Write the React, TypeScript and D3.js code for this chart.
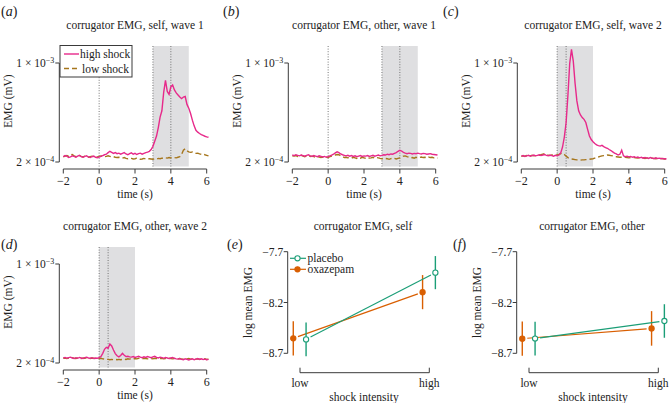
import React from 'react';
import * as d3 from 'd3';

// ---------- DATA ----------
const TIME = [
  -2.0, -1.9, -1.8, -1.7, -1.6, -1.5, -1.4, -1.3, -1.2, -1.1,
  -1.0, -0.9, -0.8, -0.7, -0.6, -0.5, -0.4, -0.3, -0.2, -0.1,
  0.0, 0.1, 0.2, 0.3, 0.4, 0.5, 0.6, 0.7, 0.8, 0.9,
  1.0, 1.1, 1.2, 1.3, 1.4, 1.5, 1.6, 1.7, 1.8, 1.9,
  2.0, 2.1, 2.2, 2.3, 2.4, 2.5, 2.6, 2.7, 2.8, 2.9,
  3.0, 3.1, 3.2, 3.3, 3.4, 3.5, 3.6, 3.7, 3.8, 3.9,
  4.0, 4.1, 4.2, 4.3, 4.4, 4.5, 4.6, 4.7, 4.8, 4.9,
  5.0, 5.1, 5.2, 5.3, 5.4, 5.5, 5.6, 5.7, 5.8, 5.9,
  6.0, 6.1,
];

// EMG values in units of 1e-4 mV
const selfW1High = [
  2.18, 2.22, 2.20, 2.15, 2.17, 2.21, 2.19, 2.16, 2.20, 2.23,
  2.18, 2.16, 2.19, 2.21, 2.17, 2.15, 2.18, 2.20, 2.16, 2.14,
  2.17, 2.19, 2.22, 2.25, 2.27, 2.33, 2.38, 2.34, 2.30, 2.33,
  2.29, 2.31, 2.27, 2.30, 2.33, 2.28, 2.25, 2.29, 2.32, 2.27,
  2.30, 2.26, 2.29, 2.31, 2.27, 2.30, 2.33, 2.35, 2.38, 2.45,
  2.58, 2.80, 3.05, 3.50, 4.15, 4.60, 6.20, 7.55, 6.30, 6.00,
  6.80, 7.00, 6.45, 6.15, 5.95, 5.75, 5.60, 5.75, 5.80, 5.10,
  4.80, 4.40, 3.95, 3.60, 3.35, 3.25, 3.18, 3.12, 3.08, 3.04,
  3.01, 2.99,
];
const selfW1Low = [
  2.17, 2.20, 2.22, 2.19, 2.24, 2.26, 2.21, 2.18, 2.20, 2.22,
  2.19, 2.17, 2.20, 2.18, 2.16, 2.18, 2.20, 2.17, 2.15, 2.17,
  2.19, 2.21, 2.20, 2.18, 2.19, 2.21, 2.19, 2.17, 2.18, 2.16,
  2.15, 2.16, 2.14, 2.13, 2.15, 2.12, 2.11, 2.13, 2.12, 2.10,
  2.11, 2.13, 2.11, 2.09, 2.10, 2.12, 2.10, 2.09, 2.11, 2.10,
  2.09, 2.11, 2.10, 2.12, 2.11, 2.13, 2.12, 2.14, 2.13, 2.15,
  2.14, 2.16, 2.15, 2.14, 2.16, 2.18, 2.26, 2.42, 2.48, 2.40,
  2.36, 2.34, 2.35, 2.32, 2.30, 2.31, 2.28, 2.27, 2.28, 2.25,
  2.23, 2.21,
];
const otherW1High = [
  2.24, 2.22, 2.25, 2.23, 2.21, 2.24, 2.22, 2.20, 2.23, 2.25,
  2.21, 2.19, 2.22, 2.20, 2.18, 2.21, 2.19, 2.17, 2.19, 2.16,
  2.18, 2.21, 2.24, 2.27, 2.32, 2.36, 2.33, 2.28, 2.25, 2.23,
  2.21, 2.23, 2.20, 2.22, 2.19, 2.21, 2.18, 2.20, 2.22, 2.19,
  2.21, 2.20, 2.22, 2.19, 2.21, 2.23, 2.20, 2.22, 2.24, 2.21,
  2.23, 2.25, 2.24, 2.27, 2.25, 2.28, 2.27, 2.30, 2.33, 2.38,
  2.42, 2.39, 2.34, 2.31, 2.29, 2.31, 2.30, 2.28, 2.30, 2.29,
  2.31, 2.29, 2.28, 2.30, 2.29, 2.27, 2.28, 2.29, 2.27, 2.26,
  2.25, 2.24,
];
const otherW1Low = [
  2.21, 2.20, 2.22, 2.19, 2.21, 2.23, 2.20, 2.18, 2.21, 2.22,
  2.19, 2.20, 2.18, 2.16, 2.19, 2.17, 2.15, 2.17, 2.14, 2.16,
  2.15, 2.18, 2.20, 2.22, 2.24, 2.26, 2.25, 2.21, 2.18, 2.15,
  2.16, 2.14, 2.15, 2.13, 2.16, 2.14, 2.12, 2.15, 2.13, 2.16,
  2.14, 2.12, 2.15, 2.13, 2.14, 2.16, 2.13, 2.15, 2.14, 2.12,
  2.11, 2.10, 2.12, 2.11, 2.09, 2.11, 2.13, 2.12, 2.10, 2.12,
  2.14, 2.17, 2.20, 2.21, 2.18, 2.16, 2.14, 2.15, 2.13, 2.16,
  2.14, 2.15, 2.17, 2.15, 2.16, 2.14, 2.17, 2.15, 2.16, 2.14,
  2.15, 2.13,
];
const selfW2High = [
  2.20, 2.22, 2.19, 2.21, 2.23, 2.20, 2.22, 2.24, 2.21, 2.23,
  2.25, 2.22, 2.24, 2.26, 2.23, 2.21, 2.24, 2.22, 2.20, 2.23,
  2.21, 2.24, 2.32, 2.55, 3.00, 3.80, 5.90, 9.90, 12.50, 10.30,
  7.20, 5.40, 4.60, 4.30, 4.12, 4.00, 3.80, 3.40, 3.05, 2.88,
  2.78, 2.70, 2.64, 2.61, 2.59, 2.62, 2.57, 2.53, 2.50, 2.45,
  2.41, 2.36, 2.31, 2.28, 2.24, 2.27, 2.42, 2.21, 2.18, 2.20,
  2.17, 2.19, 2.16, 2.18, 2.15, 2.17, 2.14, 2.16, 2.13, 2.15,
  2.14, 2.12, 2.15, 2.13, 2.11, 2.14, 2.12, 2.13, 2.11, 2.12,
  2.10, 2.11,
];
const selfW2Low = [
  2.19, 2.21, 2.20, 2.22, 2.20, 2.21, 2.23, 2.21, 2.22, 2.24,
  2.23, 2.25, 2.27, 2.29, 2.25, 2.23, 2.22, 2.24, 2.23, 2.25,
  2.24, 2.26, 2.29, 2.31, 2.26, 2.20, 2.15, 2.12, 2.10, 2.09,
  2.08, 2.07, 2.07, 2.06, 2.07, 2.07, 2.08, 2.08, 2.09, 2.10,
  2.11, 2.13, 2.15, 2.17, 2.19, 2.21, 2.22, 2.23, 2.24, 2.23,
  2.22, 2.21, 2.19, 2.18, 2.17, 2.16, 2.16, 2.15, 2.16, 2.15,
  2.14, 2.15, 2.14, 2.15, 2.14, 2.13, 2.14, 2.13, 2.14, 2.12,
  2.13, 2.14, 2.12, 2.13, 2.12, 2.11, 2.12, 2.11, 2.12, 2.11,
  2.10, 2.11,
];
const otherW2High = [
  2.17, 2.19, 2.16, 2.18, 2.20, 2.17, 2.15, 2.18, 2.16, 2.19,
  2.17, 2.15, 2.18, 2.20, 2.17, 2.16, 2.18, 2.15, 2.17, 2.16,
  2.18, 2.22, 2.34, 2.50, 2.58, 2.54, 2.72, 2.64, 2.47, 2.33,
  2.25, 2.21, 2.26, 2.34, 2.27, 2.22, 2.23, 2.21, 2.20, 2.22,
  2.19, 2.21, 2.23, 2.20, 2.18, 2.21, 2.19, 2.22, 2.20, 2.18,
  2.21, 2.23, 2.19, 2.17, 2.20, 2.18, 2.16, 2.19, 2.17, 2.15,
  2.17, 2.19, 2.16, 2.14, 2.13, 2.15, 2.12, 2.11, 2.14, 2.12,
  2.10, 2.12, 2.14, 2.11, 2.13, 2.15, 2.12, 2.14, 2.12, 2.13,
  2.11, 2.12,
];
const otherW2Low = [
  2.16, 2.17, 2.15, 2.17, 2.16, 2.18, 2.16, 2.15, 2.17, 2.16,
  2.15, 2.17, 2.16, 2.18, 2.16, 2.15, 2.17, 2.16, 2.15, 2.16,
  2.15, 2.16, 2.14, 2.13, 2.12, 2.12, 2.11, 2.12, 2.11, 2.12,
  2.11, 2.12, 2.11, 2.12, 2.13, 2.12, 2.14, 2.13, 2.15, 2.14,
  2.15, 2.14, 2.16, 2.15, 2.14, 2.16, 2.15, 2.14, 2.16, 2.15,
  2.14, 2.16, 2.15, 2.14, 2.15, 2.16, 2.14, 2.15, 2.14, 2.16,
  2.15, 2.14, 2.15, 2.13, 2.14, 2.15, 2.13, 2.14, 2.13, 2.14,
  2.15, 2.13, 2.14, 2.12, 2.13, 2.14, 2.13, 2.12, 2.13, 2.14,
  2.12, 2.13,
];

const timeTicks = [-2, 0, 2, 4, 6];
const emgTicks = [2e-4, 1e-3];
const emgTickMant = ['2', '1'];
const emgTickExp = ['\u22124', '\u22123'];

// Panels e/f: log mean EMG
const intensityCats = ['low', 'high'];
const logTicks = [-7.7, -8.2, -8.7];
const selfPlaceboMean = [-8.563, -7.906];
const selfPlaceboCI = [0.165, 0.163];
const selfOxazepamMean = [-8.553, -8.098];
const selfOxazepamCI = [0.168, 0.168];
const otherPlaceboMean = [-8.555, -8.382];
const otherPlaceboCI = [0.166, 0.165];
const otherOxazepamMean = [-8.556, -8.455];
const otherOxazepamCI = [0.168, 0.17];

// ---------- STYLE ----------
const FONT = "'Liberation Serif', 'DejaVu Serif', 'Times New Roman', serif";
const PINK = '#E7298A';
const BROWN = '#A6761D';
const GREEN = '#1B9E77';
const ORANGE = '#D95F02';
const AXIS = '#3a3a3a';
const SHADE = '#dfdfe1';
const FS = 11.5;

type TPProps = {
  ox: number; oy: number; title: string; label: string; labelX: number; labelY: number;
  high: number[]; low: number[]; shade: [number, number]; vlines: number[]; legend?: boolean;
};

function TimePanel({ ox, oy, title, label, labelX, labelY, high, low, shade, vlines, legend }: TPProps) {
  const x = d3.scaleLinear().domain([-2, 6]).range([ox + 63.3, ox + 206.7]);
  const y = d3.scaleLog().domain([2e-4, 1e-3]).range([oy + 162, oy + 63]);
  const top = oy + 46;
  const bottom = oy + 166.5;
  const line = d3.line<number>().x((_, i) => x(TIME[i])).y((v) => y(v * 1e-4));
  const axX = ox + 59.3;
  const axY = oy + 169;
  return (
    <g fontFamily={FONT} fontSize={FS} fill="#222">
      <text x={labelX} y={labelY} fontSize={14}>(<tspan fontStyle="italic">{label}</tspan>)</text>
      <text x={ox + 135} y={oy + 29} textAnchor="middle">{title}</text>
      <rect x={x(shade[0])} y={top} width={x(shade[1]) - x(shade[0])} height={bottom - top} fill={SHADE} />
      {vlines.map((v) => (
        <line key={v} x1={x(v)} x2={x(v)} y1={top} y2={bottom} stroke="#666" strokeWidth={0.9} strokeDasharray="1,1.6" />
      ))}
      <path d={line(low) || ''} fill="none" stroke={BROWN} strokeWidth={1.4} strokeDasharray="6,3" />
      <path d={line(high) || ''} fill="none" stroke={PINK} strokeWidth={1.4} />
      {/* y axis */}
      <line x1={axX} x2={axX} y1={y(1e-3)} y2={y(2e-4)} stroke={AXIS} strokeWidth={1} />
      {emgTicks.map((t, i) => (
        <g key={t}>
          <line x1={axX - 4} x2={axX} y1={y(t)} y2={y(t)} stroke={AXIS} strokeWidth={1} />
          <text x={axX - 5} y={y(t)} dy="0.35em" textAnchor="end">
            {emgTickMant[i]} × 10<tspan dy="-0.5em" fontSize={8}>{emgTickExp[i]}</tspan>
          </text>
        </g>
      ))}
      <text transform={`translate(${ox + 12},${oy + 101}) rotate(-90)`} textAnchor="middle">EMG (mV)</text>
      {/* x axis */}
      <line x1={x(-2)} x2={x(6)} y1={axY} y2={axY} stroke={AXIS} strokeWidth={1} />
      {timeTicks.map((t) => (
        <g key={t}>
          <line x1={x(t)} x2={x(t)} y1={axY} y2={axY + 4.5} stroke={AXIS} strokeWidth={1} />
          <text x={x(t)} y={oy + 185} textAnchor="middle" fontSize={12}>{t < 0 ? `\u2212${-t}` : t}</text>
        </g>
      ))}
      <text x={ox + 135} y={oy + 198} textAnchor="middle">time (s)</text>
      {legend && (
        <g>
          <rect x={ox + 60} y={oy + 45.5} width={72} height={31.5} fill="#fff" stroke={AXIS} strokeWidth={1} />
          <line x1={ox + 64} x2={ox + 79} y1={oy + 54} y2={oy + 54} stroke={PINK} strokeWidth={1.4} />
          <text x={ox + 80} y={oy + 58}>high shock</text>
          <line x1={ox + 64} x2={ox + 80} y1={oy + 68.5} y2={oy + 68.5} stroke={BROWN} strokeWidth={1.4} strokeDasharray="5,3" />
          <text x={ox + 82} y={oy + 72.5}>low shock</text>
        </g>
      )}
    </g>
  );
}

type MPProps = {
  ox: number; title: string; label: string; labelX: number;
  pMean: number[]; pCI: number[]; oMean: number[]; oCI: number[]; legend?: boolean;
};

function gapSeg(x1: number, y1: number, x2: number, y2: number, gap: number) {
  const dx = x2 - x1, dy = y2 - y1;
  const d = Math.sqrt(dx * dx + dy * dy);
  const ux = dx / d, uy = dy / d;
  return [x1 + ux * gap, y1 + uy * gap, x2 - ux * gap, y2 - uy * gap];
}

function MeanPanel({ ox, title, label, labelX, pMean, pCI, oMean, oCI, legend }: MPProps) {
  const x = d3.scaleLinear().domain([0, 1]).range([ox + 300, ox + 429.3]);
  const y = d3.scaleLinear().domain([-8.7, -7.7]).range([353.3, 251.7]);
  const axX = ox + 287.7;
  const brY = 372.7;
  const series = [
    { mean: oMean, ci: oCI, color: ORANGE, off: -0.052, filled: true },
    { mean: pMean, ci: pCI, color: GREEN, off: 0.047, filled: false },
  ];
  return (
    <g fontFamily={FONT} fontSize={FS} fill="#222">
      <text x={labelX} y={249} fontSize={14}>(<tspan fontStyle="italic">{label}</tspan>)</text>
      <text x={ox + 363} y={230} textAnchor="middle">{title}</text>
      {series.map((s, si) => {
        const px = [x(0 + s.off), x(1 + s.off)];
        const py = [y(s.mean[0]), y(s.mean[1])];
        const g = gapSeg(px[0], py[0], px[1], py[1], 5);
        return (
          <g key={si}>
            {[0, 1].map((k) => (
              <line key={k} x1={px[k]} x2={px[k]} y1={y(s.mean[k] - s.ci[k])} y2={y(s.mean[k] + s.ci[k])} stroke={s.color} strokeWidth={1.4} />
            ))}
            <line x1={g[0]} y1={g[1]} x2={g[2]} y2={g[3]} stroke={s.color} strokeWidth={1.2} />
            {[0, 1].map((k) => (
              <circle key={k} cx={px[k]} cy={py[k]} r={2.6} fill={s.filled ? s.color : '#fff'} stroke={s.color} strokeWidth={1.1} />
            ))}
          </g>
        );
      })}
      {/* y axis */}
      <line x1={axX} x2={axX} y1={y(-7.7)} y2={y(-8.7)} stroke={AXIS} strokeWidth={1} />
      {logTicks.map((t) => (
        <g key={t}>
          <line x1={axX - 4} x2={axX} y1={y(t)} y2={y(t)} stroke={AXIS} strokeWidth={1} />
          <text x={axX - 4.5} y={y(t)} dy="0.35em" textAnchor="end">{`\u2212${(-t).toFixed(1)}`}</text>
        </g>
      ))}
      <text transform={`translate(${ox + 252},${302.5}) rotate(-90)`} textAnchor="middle">log mean EMG</text>
      {/* x bracket */}
      <line x1={x(0)} x2={x(1)} y1={brY} y2={brY} stroke={AXIS} strokeWidth={1} />
      {intensityCats.map((c, i) => (
        <g key={c}>
          <line x1={x(i)} x2={x(i)} y1={brY} y2={brY - 5} stroke={AXIS} strokeWidth={1} />
          <text x={x(i)} y={386.5} textAnchor="middle">{c}</text>
        </g>
      ))}
      <text x={ox + 364} y={400.5} textAnchor="middle">shock intensity</text>
      {legend && (
        <g>
          <line x1={ox + 290} x2={ox + 306} y1={258.3} y2={258.3} stroke={GREEN} strokeWidth={1.2} />
          <circle cx={ox + 297.5} cy={258.3} r={2.6} fill="#fff" stroke={GREEN} strokeWidth={1.1} />
          <text x={ox + 307.5} y={262.3}>placebo</text>
          <line x1={ox + 290} x2={ox + 306} y1={269.3} y2={269.3} stroke={ORANGE} strokeWidth={1.2} />
          <circle cx={ox + 297.5} cy={269.3} r={2.6} fill={ORANGE} stroke={ORANGE} strokeWidth={1.1} />
          <text x={ox + 307.5} y={273.3}>oxazepam</text>
        </g>
      )}
    </g>
  );
}

export default function App() {
  return (
    <svg width={671} height={403} style={{ position: 'absolute', left: 0, top: 0, background: '#fff' }}>
      <rect x={0} y={0} width={671} height={403} fill="#fff" />
      <TimePanel ox={0} oy={0} title="corrugator EMG, self, wave 1" label="a" labelX={1} labelY={16}
        high={selfW1High} low={selfW1Low} shade={[3, 5]} vlines={[0, 3, 4]} legend />
      <TimePanel ox={229} oy={0} title="corrugator EMG, other, wave 1" label="b" labelX={223} labelY={16}
        high={otherW1High} low={otherW1Low} shade={[3, 5]} vlines={[0, 3, 4]} />
      <TimePanel ox={458} oy={0} title="corrugator EMG, self, wave 2" label="c" labelX={443} labelY={16}
        high={selfW2High} low={selfW2Low} shade={[0, 2]} vlines={[0, 0.5]} />
      <TimePanel ox={0} oy={201} title="corrugator EMG, other, wave 2" label="d" labelX={1} labelY={249}
        high={otherW2High} low={otherW2Low} shade={[0, 2]} vlines={[0, 0.5]} />
      <MeanPanel ox={0} title="corrugator EMG, self" label="e" labelX={227}
        pMean={selfPlaceboMean} pCI={selfPlaceboCI} oMean={selfOxazepamMean} oCI={selfOxazepamCI} legend />
      <MeanPanel ox={229} title="corrugator EMG, other" label="f" labelX={453}
        pMean={otherPlaceboMean} pCI={otherPlaceboCI} oMean={otherOxazepamMean} oCI={otherOxazepamCI} />
    </svg>
  );
}
